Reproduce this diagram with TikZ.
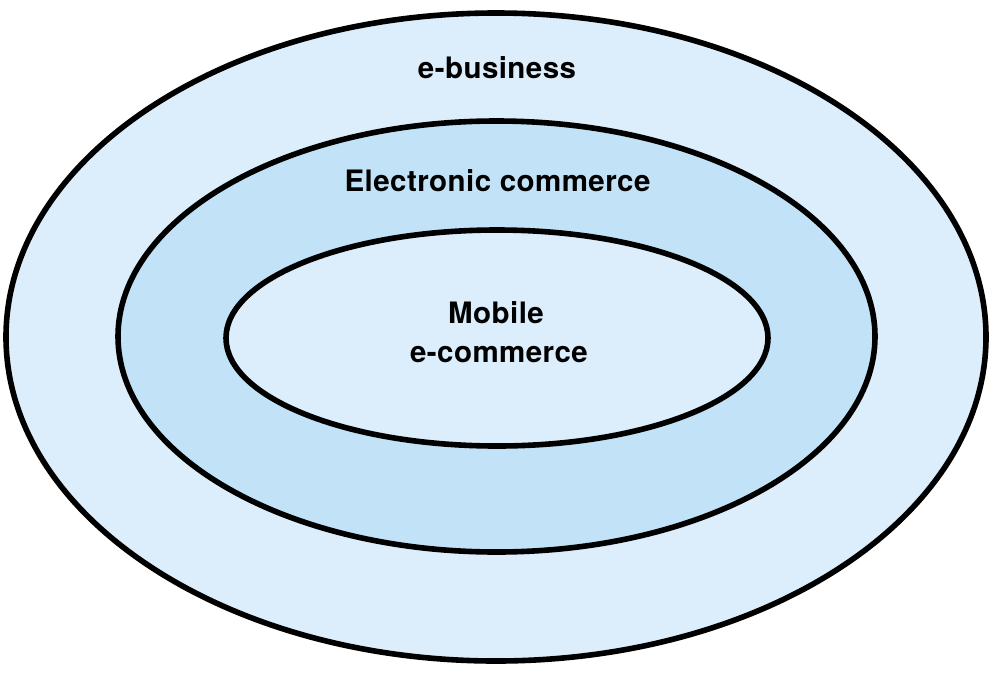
\documentclass[tikz,border=0pt]{standalone}
\usepackage{fontspec}
\setmainfont{TeX Gyre Heros}
\definecolor{outerfill}{HTML}{DCEDFB}
\definecolor{midfill}{HTML}{C2E2F7}
\begin{document}
\begin{tikzpicture}[x=1pt,y=-1pt,
  ring/.style={draw=black,line width=5.6pt},
  lbl/.style={anchor=base,inner sep=0pt,font=\fontsize{29.5}{39}\selectfont\bfseries\addfontfeature{LetterSpace=1.5}}]
\useasboundingbox (0,0) rectangle (1000,678);
\filldraw[ring,fill=outerfill] (496,337) ellipse [x radius=490, y radius=324];
\filldraw[ring,fill=midfill] (496.5,336.5) ellipse [x radius=378.5, y radius=215.5];
\filldraw[ring,fill=outerfill] (497,338) ellipse [x radius=271, y radius=108];
\node[lbl] (ebus) at (497,78) {e-business};
\node[lbl] (ecom) at (497.5,191.5) {Electronic commerce};
\node[lbl] (mob) at (496,323) {Mobile};
\node[lbl] (mecom) at (499,362) {e-commerce};
\end{tikzpicture}
\end{document}
